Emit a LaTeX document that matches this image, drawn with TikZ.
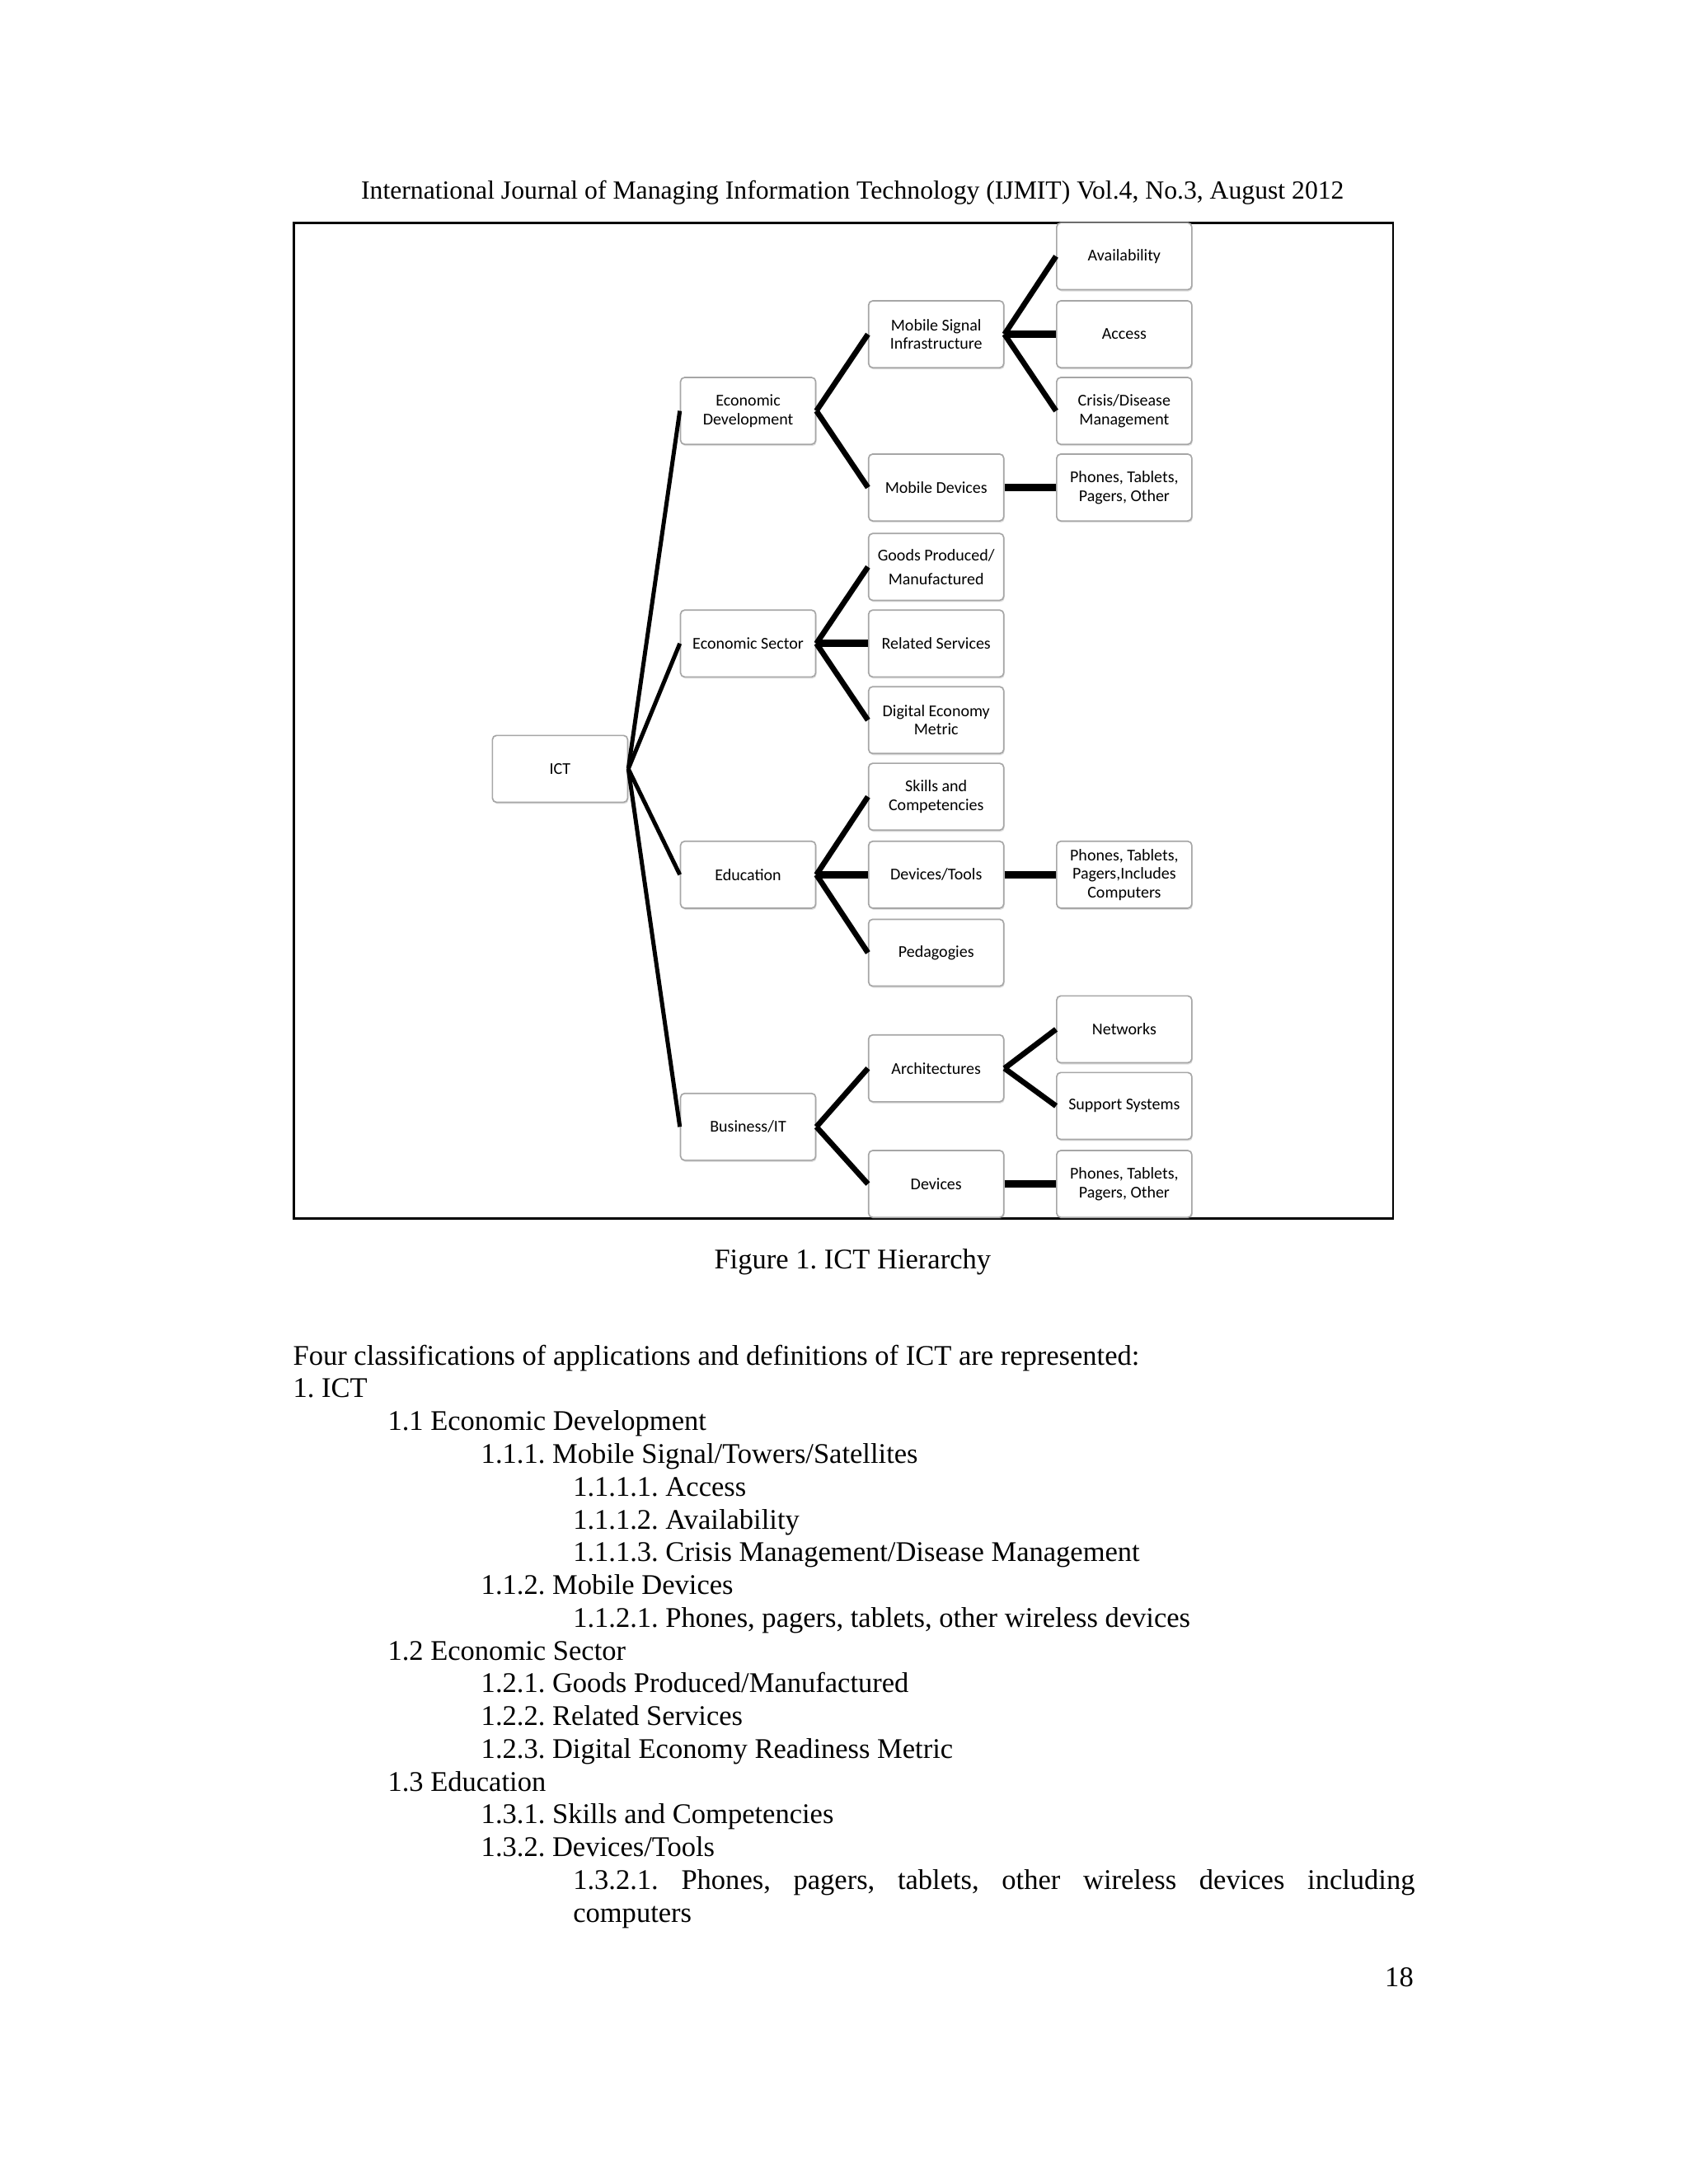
\documentclass[tikz,border=0pt]{standalone}
\usepackage{fontspec}
\setmainfont{Liberation Serif}
\newfontfamily\boxfont{Carlito}
\usetikzlibrary{shadows}

\begin{document}
\begin{tikzpicture}[x=0.017814cm, y=-0.017814cm, txt/.style={font=\fontsize{10.35}{11.9}\selectfont\frenchspacing, inner sep=0pt}, item/.style={txt, anchor=base west}, box/.style={draw=gray!70, line width=0.5pt, fill=white, rounded corners=1.5pt, minimum width=1.728cm, minimum height=0.855cm, align=center, inner sep=1pt, font=\boxfont\fontsize{6}{6.8}\selectfont, drop shadow={opacity=0.25, shadow xshift=0.3pt, shadow yshift=-0.6pt}}, trunk/.style={line width=1.5pt}, link/.style={line width=2pt}, flat/.style={line width=2.8pt}]
\useasboundingbox (0,0) rectangle (1212,1568); \fill[white] (0,0) rectangle (1212,1568);
\node[txt, font=\fontsize{9.5}{11}\selectfont, anchor=base] (header) at (612,143) {International Journal of Managing Information Technology (IJMIT) Vol.4, No.3, August 2012};
\draw[line width=0.8pt] (211,160) rectangle (1000,875);
\node[box] (ict) at (402,552) {ICT};
\node[box] (ecodev) at (537,295) {Economic\\Development}; \node[box] (ecosec) at (537,462) {Economic Sector}; \node[box] (edu) at (537,628) {Education}; \node[box] (bizit) at (537,809) {Business/IT};
\node[box] (msi) at (672,240) {Mobile Signal\\Infrastructure}; \node[box] (mobdev) at (672,350) {Mobile Devices};
\node[box] (goods) at (672,407) {Goods Produced/\\[2pt]Manufactured}; \node[box] (relserv) at (672,462) {Related Services}; \node[box] (digeco) at (672,517) {Digital Economy\\Metric};
\node[box] (skills) at (672,572) {Skills and\\Competencies}; \node[box] (devtools) at (672,628) {Devices/Tools}; \node[box] (peda) at (672,684) {Pedagogies};
\node[box] (arch) at (672,767) {Architectures}; \node[box] (devices) at (672,850) {Devices};
\node[box] (avail) at (807,184) {Availability}; \node[box] (access) at (807,240) {Access}; \node[box] (crisis) at (807,295) {Crisis/Disease\\Management}; \node[box] (phonesa) at (807,350) {Phones, Tablets,\\Pagers, Other};
\node[box] (phonesb) at (807,628) {Phones, Tablets,\\Pagers,Includes\\Computers};
\node[box] (networks) at (807,739) {Networks}; \node[box] (support) at (807,794) {Support Systems}; \node[box] (phonesc) at (807,850) {Phones, Tablets,\\Pagers, Other};
\foreach \c in {ecodev,ecosec,edu,bizit} \draw[trunk] (ict.east)--(\c.west);
\draw[link] (ecodev.east)--(msi.west); \draw[link] (ecodev.east)--(mobdev.west);
\draw[link] (ecosec.east)--(goods.west); \draw[link] (ecosec.east)--(digeco.west); \draw[flat] (ecosec.east)--(relserv.west);
\draw[link] (edu.east)--(skills.west); \draw[link] (edu.east)--(peda.west); \draw[flat] (edu.east)--(devtools.west);
\draw[link] (bizit.east)--(arch.west); \draw[link] (bizit.east)--(devices.west);
\draw[link] (msi.east)--(avail.west); \draw[link] (msi.east)--(crisis.west); \draw[flat] (msi.east)--(access.west);
\draw[flat] (mobdev.east)--(phonesa.west); \draw[flat] (devtools.east)--(phonesb.west); \draw[flat] (devices.east)--(phonesc.west);
\draw[link] (arch.east)--(networks.west); \draw[link] (arch.east)--(support.west);
\node[txt, anchor=base] (caption) at (612,911) {Figure 1. ICT Hierarchy};
\node[item] (intro) at (210,980) {Four classifications of applications and definitions of ICT are represented:};
\node[item] (l1) at (210,1003.5) {1. ICT};
\node[item] (l11) at (278,1027.1) {1.1 Economic Development};
\node[item] (l111) at (345,1050.6) {1.1.1. Mobile Signal/Towers/Satellites};
\node[item] (l1111) at (411,1074.1) {1.1.1.1. Access}; \node[item] (l1112) at (411,1097.7) {1.1.1.2. Availability}; \node[item] (l1113) at (411,1121.2) {1.1.1.3. Crisis Management/Disease Management};
\node[item] (l112) at (345,1144.7) {1.1.2. Mobile Devices};
\node[item] (l1121) at (411,1168.2) {1.1.2.1. Phones, pagers, tablets, other wireless devices};
\node[item] (l12) at (278,1191.8) {1.2 Economic Sector};
\node[item] (l121) at (345,1215.3) {1.2.1. Goods Produced/Manufactured}; \node[item] (l122) at (345,1238.8) {1.2.2. Related Services}; \node[item] (l123) at (345,1262.4) {1.2.3. Digital Economy Readiness Metric};
\node[item] (l13) at (278,1285.9) {1.3 Education};
\node[item] (l131) at (345,1309.4) {1.3.1. Skills and Competencies}; \node[item] (l132) at (345,1333.0) {1.3.2. Devices/Tools};
\node[item, text width=10.76cm, align=justify] (l1321) at (411,1356.5) {\parfillskip=0pt 1.3.2.1. Phones, pagers, tablets, other wireless devices including\par};
\node[item] (l1321b) at (411,1380) {computers};
\node[txt, anchor=base east] (page) at (1015,1426) {18};
\end{tikzpicture}
\end{document}
